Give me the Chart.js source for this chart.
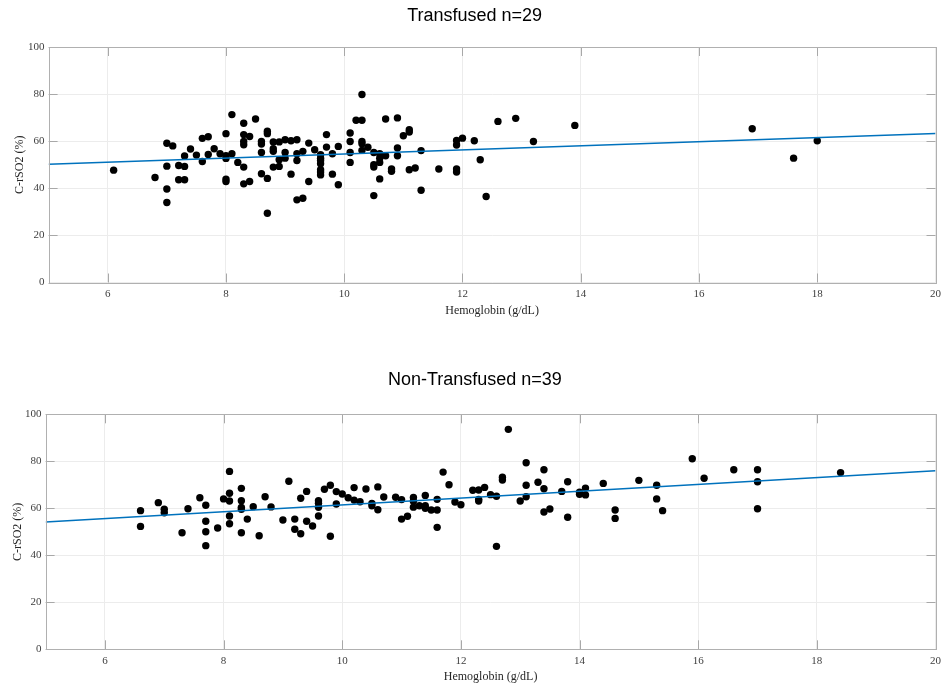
<!DOCTYPE html>
<html>
<head>
<meta charset="utf-8">
<script src="https://cdn.jsdelivr.net/npm/chart.js@4/dist/chart.umd.min.js"></script>
<style>
  html, body { margin: 0; padding: 0; background: #ffffff; }
  #wrap { width: 946px; height: 686px; position: relative; }
  .box { width: 946px; height: 343px; position: relative; }
  canvas { display: block; }
</style>
</head>
<body>
<div id="wrap">
  <div class="box"><canvas id="c1" width="946" height="343"></canvas></div>
  <div class="box"><canvas id="c2" width="946" height="343"></canvas></div>
</div>
<script>
// ---------- data ----------
const xTickValues = [6, 8, 10, 12, 14, 16, 18, 20];
const yTickValues = [0, 20, 40, 60, 80, 100];

const transfusedTitle = 'Transfused n=29';
const nonTransfusedTitle = 'Non-Transfused n=39';
const xAxisTitle = 'Hemoglobin (g/dL)';
const yAxisTitle = 'C-rSO2 (%)';

const transfusedHb = [6.1,6.8,7.0,7.0,7.0,7.0,7.1,7.2,7.2,7.3,7.3,7.3,7.4,7.5,7.6,7.6,7.7,7.7,7.8,7.9,
  8.0,8.0,8.0,8.0,8.0,8.1,8.1,8.2,8.3,8.3,8.3,8.3,8.3,8.3,8.4,8.4,8.5,8.6,8.6,8.6,8.6,8.7,8.7,8.7,8.7,
  8.8,8.8,8.8,8.8,8.9,8.9,8.9,9.0,9.0,9.0,9.1,9.1,9.2,9.2,9.2,9.2,9.3,9.3,9.4,9.4,9.5,
  9.6,9.6,9.6,9.6,9.6,9.6,9.6,9.7,9.7,9.8,9.8,9.9,9.9,10.1,10.1,10.1,10.1,10.2,10.3,10.3,10.3,10.3,10.3,
  10.4,10.5,10.5,10.5,10.5,10.6,10.6,10.6,10.6,10.7,10.7,10.8,10.8,10.9,10.9,10.9,11.0,11.1,11.1,11.1,
  11.2,11.3,11.3,11.6,11.9,11.9,11.9,11.9,12.0,12.2,12.3,12.4,12.6,12.9,13.2,13.9,16.9,17.6,18.0];
const transfusedRso2 = [47.7,44.6,59.1,49.4,39.7,34.0,58.0,49.7,43.6,53.7,49.3,43.6,56.7,54.1,61.2,51.4,61.9,54.4,56.8,54.7,
  63.2,53.8,52.7,43.9,42.9,71.3,54.7,51.0,67.6,62.8,59.9,58.5,49.0,41.9,62.0,42.9,69.4,59.9,58.8,55.2,46.2,64.2,63.2,44.2,29.4,
  59.7,56.8,55.7,49.0,59.7,52.1,49.3,60.6,55.2,52.8,60.2,46.0,60.6,54.7,51.8,35.1,55.7,35.8,59.2,42.9,56.4,
  54.3,52.8,51.8,50.4,47.9,46.9,45.7,62.8,57.5,54.7,46.0,57.8,41.5,63.5,59.9,55.2,51.0,68.9,68.9,79.8,59.9,58.9,56.1,
  57.4,55.2,50.0,49.0,36.9,54.7,52.8,51.0,44.0,69.4,53.8,48.2,47.2,69.9,57.1,53.8,62.3,64.9,63.9,47.9,
  48.6,56.0,39.2,48.2,60.3,58.4,48.2,46.9,61.3,60.2,52.1,36.5,68.4,69.7,59.9,66.7,65.3,52.8,60.2];
const transfusedFitX = [5, 20];
const transfusedFitY = [50.2, 63.3];

const nonTransfusedHb = [6.6,6.6,6.9,7.0,7.0,7.3,7.4,7.6,7.7,7.7,7.7,7.7,7.9,8.0,
  8.1,8.1,8.1,8.1,8.1,8.3,8.3,8.3,8.3,8.3,8.4,8.5,8.6,8.7,8.8,9.0,9.1,9.2,9.2,9.3,9.3,9.4,9.4,9.5,
  9.6,9.6,9.6,9.6,9.7,9.8,9.8,9.9,9.9,10.0,10.1,10.2,10.2,10.3,10.4,10.5,10.5,10.6,10.6,10.7,10.9,
  11.0,11.0,11.1,11.2,11.2,11.2,11.3,11.4,11.4,11.4,11.5,11.6,11.6,11.6,11.7,11.8,11.9,12.0,12.2,
  12.3,12.3,12.3,12.4,12.5,12.6,12.6,12.7,12.7,12.8,13.0,13.1,13.1,13.1,13.3,13.4,13.4,13.4,13.5,13.7,
  13.8,13.8,14.0,14.0,14.1,14.1,14.4,14.6,14.6,15.0,15.3,15.3,15.4,15.9,16.1,16.6,17.0,17.0,17.0,18.4];
const nonTransfusedRso2 = [59.0,52.3,62.4,59.6,58.1,49.6,59.8,64.5,61.3,54.5,50.0,44.1,51.6,64.0,
  75.7,66.4,63.1,56.7,53.4,68.5,63.2,60.4,59.6,49.6,55.4,60.7,48.3,64.9,60.6,55.0,71.5,55.4,51.1,64.3,49.2,67.2,54.5,52.5,
  63.2,62.1,60.4,56.7,68.1,69.8,48.1,67.1,61.8,66.1,64.5,68.8,63.5,62.8,68.2,62.1,61.1,69.1,59.4,64.8,64.7,
  63.7,55.4,56.6,64.6,63.0,60.5,61.1,65.5,61.1,60.0,59.3,63.8,59.3,51.9,75.4,70.0,62.7,61.5,67.7,
  67.8,63.8,63.1,68.9,65.8,65.1,43.8,73.2,72.0,93.6,63.1,79.4,69.8,64.9,71.1,76.4,68.3,58.4,59.7,67.2,
  71.3,56.2,66.8,66.0,68.6,65.7,70.6,59.3,55.7,71.9,69.8,64.0,59.0,81.1,72.8,76.4,76.4,71.3,59.8,75.2];
const nonTransfusedFitX = [5, 20];
const nonTransfusedFitY = [54.2, 76.0];

// ---------- helpers ----------
function pairs(xs, ys) { return xs.map((x, i) => ({ x: x, y: ys[i] })); }

const frameTicks = {
  id: 'frameTicks',
  afterDatasetsDraw(chart) {
    const { ctx, chartArea: a, scales } = chart;
    const len = 9;
    ctx.save();
    ctx.strokeStyle = '#a8a8a8';
    ctx.lineWidth = 1;
    ctx.beginPath();
    scales.x.ticks.forEach(t => {
      const px = Math.round(scales.x.getPixelForValue(t.value)) + 0.5;
      ctx.moveTo(px, a.bottom); ctx.lineTo(px, a.bottom - len);
      ctx.moveTo(px, a.top); ctx.lineTo(px, a.top + len);
    });
    scales.y.ticks.forEach(t => {
      const py = Math.round(scales.y.getPixelForValue(t.value)) + 0.5;
      ctx.moveTo(a.left, py); ctx.lineTo(a.left + len, py);
      ctx.moveTo(a.right, py); ctx.lineTo(a.right - len, py);
    });
    ctx.stroke();
    ctx.strokeStyle = '#b0b0b0';
    ctx.strokeRect(Math.round(a.left) + 0.5, Math.round(a.top) + 0.5,
                   Math.round(a.right - a.left), Math.round(a.bottom - a.top));
    ctx.restore();
  }
};

function makeChart(id, cfg) {
  const tickFont = { family: 'Liberation Serif', size: 11 };
  const axisTitleFont = { family: 'Liberation Serif', size: 12 };
  return new Chart(document.getElementById(id), {
    type: 'scatter',
    data: {
      datasets: [
        {
          label: 'data',
          data: pairs(cfg.xs, cfg.ys),
          backgroundColor: '#000000',
          borderColor: '#000000',
          borderWidth: 0,
          pointRadius: 3.7,
          pointHoverRadius: 3.7,
          order: 2
        },
        {
          label: 'fit',
          type: 'line',
          data: pairs(cfg.fitX, cfg.fitY),
          borderColor: '#0072BD',
          borderWidth: 1.6,
          pointRadius: 0,
          fill: false,
          order: 1
        }
      ]
    },
    options: {
      responsive: false,
      animation: false,
      devicePixelRatio: 1,
      layout: { padding: { left: 12, right: cfg.padRight, top: 0, bottom: 0 } },
      plugins: {
        legend: { display: false },
        tooltip: { enabled: false },
        title: {
          display: true,
          text: cfg.title,
          color: '#000000',
          font: { family: 'Liberation Sans', size: 18, weight: 'normal', lineHeight: 1.2 },
          padding: { top: cfg.titleTop, bottom: cfg.titleBottom }
        }
      },
      scales: {
        x: {
          type: 'linear',
          min: 5, max: 20,
          afterBuildTicks: s => { s.ticks = xTickValues.map(v => ({ value: v })); },
          afterFit: s => { s.height = cfg.xAxisHeight; },
          grid: { color: '#ececec', drawTicks: false, lineWidth: 1 },
          border: { display: false },
          ticks: { font: tickFont, color: '#404040', padding: 5, maxRotation: 0 },
          title: {
            display: true, text: xAxisTitle, color: '#262626', font: axisTitleFont,
            padding: { top: 0, bottom: cfg.xTitleBottom }
          }
        },
        y: {
          type: 'linear',
          min: 0, max: 100,
          afterBuildTicks: s => { s.ticks = yTickValues.map(v => ({ value: v })); },
          afterFit: s => { s.width = cfg.yAxisWidth; },
          grid: { color: '#ececec', drawTicks: false, lineWidth: 1 },
          border: { display: false },
          ticks: { font: tickFont, color: '#404040', padding: 4 },
          title: {
            display: true, text: yAxisTitle, color: '#262626', font: axisTitleFont,
            padding: { top: cfg.yTitleTop, bottom: 0 }
          }
        }
      }
    },
    plugins: [frameTicks]
  });
}

makeChart('c1', {
  xs: transfusedHb, ys: transfusedRso2, fitX: transfusedFitX, fitY: transfusedFitY,
  title: transfusedTitle,
  padRight: 8.7, titleTop: 4.9, titleBottom: 20.5,
  xAxisHeight: 60.5, xTitleBottom: 25.2,
  yAxisWidth: 36.6, yTitleTop: 1.0
});

makeChart('c2', {
  xs: nonTransfusedHb, ys: nonTransfusedRso2, fitX: nonTransfusedFitX, fitY: nonTransfusedFitY,
  title: nonTransfusedTitle,
  padRight: 8.3, titleTop: 25.8, titleBottom: 23.9,
  xAxisHeight: 36.7, xTitleBottom: 1.5,
  yAxisWidth: 33.6, yTitleTop: -1.0
});
</script>
</body>
</html>
